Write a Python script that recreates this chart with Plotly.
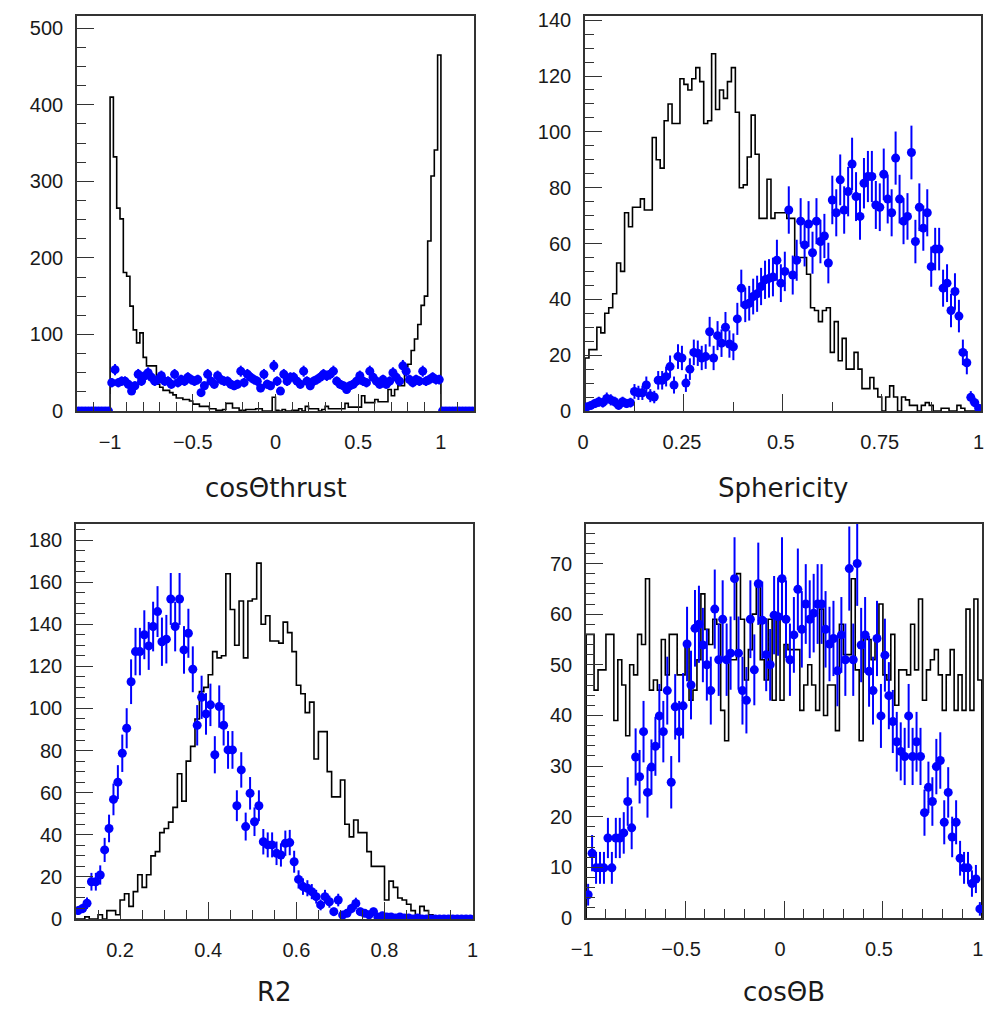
import math
import plotly.graph_objects as go

# ---------------- data ----------------
# Panel 1: cos(theta_thrust); bins of 0.02
TL_BLACK_LO, TL_BIN = -1.0, 0.02
TL_black = [410, 332, 265, 251, 181, 176, 137, 106, 89, 102,
            70, 59, 59, 59, 35, 31, 27, 27, 24, 21,
            17, 17, 15, 15, 13, 9, 9, 6, 6, 6,
            3, 3, 1, 1, 2, 10, 10, 4, 4, 1,
            1, 2, 2, 2, 3, 3, 0, 0, 0, 18,
            1, 0, 2, 0, 0, 1, 1, 3, 0, 6,
            3, 3, 3, 0, 2, 6, 3, 3, 3, 3,
            3, 10, 5, 5, 5, 5, 20, 11, 11, 11,
            15, 12, 12, 12, 28, 20, 28, 33, 33, 58,
            61, 79, 94, 113, 138, 150, 222, 307, 341, 465]
TL_BLUE_LO = -1.2
TL_blue = [0, 0, 0, 0, 0, 0, 0, 0, 0, 0,
           37, 54, 37, 39, 39, 35, 26, 33, 48, 39,
           46, 50, 44, 39, 41, 46, 39, 39, 35, 48,
           37, 41, 39, 44, 41, 39, 41, 24, 33, 48,
           39, 35, 46, 41, 39, 39, 35, 33, 35, 52,
           37, 48, 44, 41, 39, 30, 48, 35, 33, 59,
           39, 26, 48, 39, 44, 44, 39, 35, 52, 39,
           33, 39, 41, 44, 48, 46, 48, 52, 39, 35,
           33, 28, 33, 35, 39, 46, 39, 37, 52, 44,
           39, 35, 41, 35, 39, 50, 44, 39, 59, 52,
           41, 37, 41, 39, 52, 39, 41, 44, 41, 41,
           0, 0, 0, 0, 0, 0, 0, 0, 0, 0]

# Panel 2: Sphericity; bins of 0.01 on [0, 1]
TR_LO, TR_BIN = 0.0, 0.01
TR_black = [19, 22, 22, 30, 28, 35, 37, 42, 53, 50,
            71, 66, 73, 73, 76, 72, 72, 98, 90, 87,
            104, 110, 103, 103, 119, 117, 115, 119, 123, 118,
            103, 104, 128, 108, 115, 112, 118, 123, 107, 80,
            81, 91, 106, 92, 69, 69, 83, 69, 71, 71,
            71, 69, 69, 55, 55, 55, 49, 37, 36, 32,
            36, 37, 21, 32, 18, 26, 15, 15, 21, 15,
            8, 8, 12, 8, 5, 0, 5, 9, 5, 0,
            5, 4, 2, 2, 0, 2, 3, 2, 0, 0,
            1, 1, 0, 0, 2, 1, 0, 0, 0, 0]
TR_blue = [1.5, 2, 2.7, 3.3, 3, 4.5, 4, 3.3, 2, 3.3,
           2.7, 3, 7, 6.5, 6.5, 9.3, 5.5, 5, 11, 11,
           12.3, 15.9, 9.3, 19.5, 19, 10, 15, 21, 20.7, 19,
           19.5, 28.4, 19, 27, 24.3, 30, 24, 23, 33, 44,
           38, 38.6, 41, 42, 44.6, 47, 47.5, 48, 54, 45.8,
           50, 72, 48.7, 54, 68, 59.5, 67, 56.7, 68, 60.7,
           62.7, 53, 75.6, 71, 82.8, 72, 78.6, 88.5, 76.8, 69.7,
           81.6, 84, 84, 73.8, 73, 84.8, 75.9, 71, 90.6, 75.9,
           68, 69.7, 92.6, 60.7, 73, 65.5, 71, 51.7, 58, 58,
           44, 45.8, 36, 42.8, 34, 21, 17.3, 4.9, 3, 1]

# Panel 3: R2; bins of 0.01 on [0.1, 1]
BL_LO, BL_BIN = 0.1, 0.01
BL_black = [0, 0, 1, 0, 0, 2, 0, 4, 4, 2,
            9, 12, 6, 13, 21, 15, 21, 30, 32, 41,
            43, 46, 53, 69, 56, 75, 82, 95, 108, 110,
            116, 127, 124, 125, 164, 147, 130, 151, 124, 151,
            152, 169, 140, 144, 132, 132, 131, 141, 136, 127,
            111, 107, 98, 103, 76, 89, 89, 70, 58, 58,
            66, 45, 39, 47, 41, 41, 32, 25, 25, 25,
            9, 18, 15, 10, 9, 7, 4, 2, 6, 4,
            2, 1, 1, 0, 0, 0, 0, 0, 0, 0]
BL_blue = [4, 5, 7.5, 17.7, 17.7, 20.9, 32.8, 43, 56.8, 65,
           78.7, 90.6, 112.7, 127, 127, 135, 129.7, 138.9, 146, 131.7,
           132.9, 152, 138.9, 152, 127.8, 135.7, 118.6, 92, 105.3, 97.4,
           101.7, 78, 100.9, 92, 80.3, 80.3, 53.8, 70.8, 43.9, 59.7,
           46.2, 53.8, 36.7, 35.2, 35.2, 31.2, 30.4, 36, 36.3, 27.2,
           18.8, 15.4, 14.6, 13, 10.6, 6.7, 10.6, 8.2, 3.5, 9,
           1.9, 2.7, 5, 7.4, 3.5, 2.7, 2, 3.5, 1, 1.5,
           1, 1, 0.5, 1, 0.5, 0.5, 0, 0.5, 0, 0,
           0, 0, 0, 0, 0, 0, 0, 0, 0, 0]

# Panel 4: cos(theta_B); bins of 0.02 on [-1, 1]
BR_LO, BR_BIN = -1.0, 0.02
BR_black = [56, 56, 45, 49, 49, 56, 56, 39, 51, 46,
            36, 50, 48, 56, 54, 67, 45, 47, 45, 55,
            48, 56, 56, 48, 48, 54, 43, 45, 51, 64,
            57, 54, 59, 58, 41, 35, 51, 51, 68, 59,
            47, 53, 60, 66, 51, 47, 59, 43, 59, 43,
            54, 53, 53, 53, 41, 46, 50, 46, 41, 61,
            40, 46, 46, 37, 58, 52, 52, 67, 49, 35,
            56, 55, 51, 55, 62, 48, 47, 56, 42, 49,
            49, 48, 58, 49, 63, 43, 49, 51, 53, 48,
            41, 48, 53, 41, 48, 41, 61, 41, 63, 47]
BR_blue = [4.6, 12.8, 9.9, 9.9, 9.9, 15.8, 9.9, 15.8, 15.8, 16.8,
           23, 17.8, 31.8, 27.9, 36.8, 24.8, 29.8, 33.9, 39.9, 36.8,
           44.9, 26.8, 41.7, 36.8, 41.9, 54.1, 46, 57.2, 58, 53.9,
           50, 44.9, 61, 51, 59, 51, 52.3, 67, 52.3, 44.9,
           43, 59, 49, 66, 58.8, 52, 50, 59.8, 59.5, 67,
           59, 51, 55.9, 64.9, 57, 62, 59, 60.2, 62, 62,
           57, 54.1, 55.2, 48.8, 55.9, 51, 69, 51, 70, 53.9,
           55.9, 48.7, 44.9, 55.2, 39.9, 51.9, 43.9, 38.8, 34.8, 32.9,
           31.9, 39.9, 31.9, 34.8, 31.9, 20.8, 25.8, 23, 29.9, 31.1,
           18.9, 24.8, 16, 18.9, 11.8, 9.9, 9.9, 6.8, 7.7, 1.8]

TITLES = ["cosΘthrust", "Sphericity", "R2", "cosΘB"]

# ---------------- figure ----------------
W, H = 985, 1011
FRAME = "#333333"
BLUE = "#0000ff"
TICKFONT = dict(family="Liberation Sans, Arial, sans-serif", size=20, color="#1a1a1a")
TITLEFONT = dict(family="DejaVu Sans, Liberation Sans, sans-serif", size=26, color="#1a1a1a")


def outline(lo, width, vals):
    n = len(vals)
    edges = [lo + width * i for i in range(n + 1)]
    xs = [edges[0]] + edges[:n] + [edges[n]]
    ys = [0] + list(vals) + [0]
    return xs, ys


def centers(lo, width, vals):
    return [lo + width * (i + 0.5) for i in range(len(vals))]


# panel frames in pixels: (left, right, top, bottom)
frames = [(77, 474, 16, 411), (585, 981, 16, 411), (76, 473, 524, 919), (586, 982, 524, 918)]
title_bottom = [505, 505, 1009, 1009]
xlabel_shift = [0, -2, 0, -4]

panels = [
    dict(black=(TL_BLACK_LO, TL_BIN, TL_black), blue=(TL_BLUE_LO, TL_BIN, TL_blue),
         xr=[-1.2, 1.2], yr=[0, 516], xd=0.5, xm=0.1, x0=0, yd=100, ym=25),
    dict(black=(TR_LO, TR_BIN, TR_black), blue=(TR_LO, TR_BIN, TR_blue),
         xr=[0, 1.0008], yr=[0, 141.5], xd=0.25, xm=0.125, x0=0, yd=20, ym=5),
    dict(black=(BL_LO, BL_BIN, BL_black), blue=(BL_LO, BL_BIN, BL_blue),
         xr=[0.1, 1.0008], yr=[0, 187.6], xd=0.2, xm=0.05, x0=0, yd=20, ym=5),
    dict(black=(BR_LO, BR_BIN, BR_black), blue=(BR_LO, BR_BIN, BR_blue),
         xr=[-1.0008, 1.0008], yr=[0, 77.8], xd=0.5, xm=0.1, x0=0, yd=10, ym=2),
]

fig = go.Figure()
layout = dict(width=W, height=H, margin=dict(l=0, r=0, t=0, b=0, pad=0, autoexpand=False),
              paper_bgcolor="white", plot_bgcolor="white", showlegend=False)
annotations = []

for i, (p, fr) in enumerate(zip(panels, frames)):
    sfx = "" if i == 0 else str(i + 1)
    xa, ya = "x" + sfx, "y" + sfx
    l, r, t, b = fr
    xdom = [l / W, r / W]
    ydom = [1 - b / H, 1 - t / H]

    bx, by = outline(*p["black"])
    fig.add_trace(go.Scatter(x=bx, y=by, mode="lines", line=dict(color="black", width=1.6, shape="hv"),
                             xaxis=xa, yaxis=ya, hoverinfo="skip"))
    lo, wd, vals = p["blue"]
    fig.add_trace(go.Scatter(
        x=centers(lo, wd, vals), y=vals, mode="markers",
        marker=dict(color=BLUE, size=9, symbol="circle"),
        error_y=dict(type="data", array=[math.sqrt(v) for v in vals], color=BLUE, thickness=2, width=0),
        error_x=dict(type="constant", value=wd / 2, color=BLUE, thickness=2, width=0),
        xaxis=xa, yaxis=ya))

    common = dict(showline=True, linecolor=FRAME, linewidth=1.6, mirror=True, ticks="inside",
                  tickcolor=FRAME, tickwidth=1.4, ticklen=17, showgrid=False, zeroline=False,
                  tickfont=TICKFONT, tickmode="linear", automargin=False,
                  ticklabeloverflow="allow")
    layout["xaxis" + sfx] = dict(common, domain=xdom, range=p["xr"], anchor=ya, tick0=p["x0"], dtick=p["xd"],
                                 ticklabelstandoff=12, ticklabelshift=xlabel_shift[i],
                                 minor=dict(ticks="inside", ticklen=9, tickwidth=1.4, tickcolor=FRAME,
                                            dtick=p["xm"], tick0=p["x0"], showgrid=False))
    layout["yaxis" + sfx] = dict(common, domain=ydom, range=p["yr"], anchor=xa, tick0=0, dtick=p["yd"],
                                 ticklabelstandoff=8,
                                 minor=dict(ticks="inside", ticklen=9, tickwidth=1.4, tickcolor=FRAME,
                                            dtick=p["ym"], tick0=0, showgrid=False))
    annotations.append(dict(text=TITLES[i], xref="paper", yref="paper",
                            x=(l + r) / 2 / W, y=1 - title_bottom[i] / H, xanchor="center", yanchor="bottom",
                            showarrow=False, font=TITLEFONT))

layout["annotations"] = annotations
fig.update_layout(**layout)
fig.write_html("out.html")
